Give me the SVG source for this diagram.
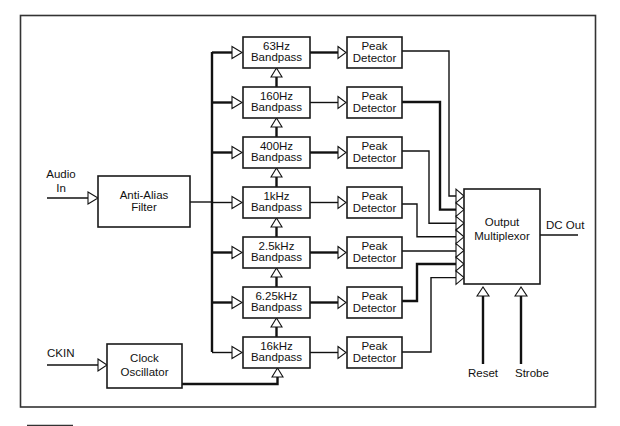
<svg xmlns="http://www.w3.org/2000/svg" width="620" height="426" viewBox="0 0 620 426">
<style>
.box{fill:#fff;stroke:#1a1a1a;stroke-width:1.6}
.t{font-family:"Liberation Sans",Arial,sans-serif;font-size:11.5px;fill:#111;text-anchor:middle}
.ts{font-family:"Liberation Sans",Arial,sans-serif;font-size:11.5px;fill:#111}
.w{fill:none;stroke:#111;stroke-width:1.4}
.W{fill:none;stroke:#111;stroke-width:2.4}
.ar{fill:#fff;stroke:#111;stroke-width:1.1;stroke-linejoin:miter}
</style>
<rect x="20.5" y="15.5" width="575" height="391.5" fill="none" stroke="#333" stroke-width="1.6"/>
<line x1="27" y1="425.5" x2="73" y2="425.5" stroke="#333" stroke-width="1.4"/>

<g id="connectors">
  <!-- inputs -->
  <path class="w" d="M47 198 H88"/>
  <path class="ar" d="M88 192 L98 198 L88 204 Z"/>
  <path class="w" d="M47 365 H98"/>
  <path class="ar" d="M98 359 L107 365 L98 371 Z"/>
  <!-- filter to bus -->
  <path class="w" d="M190 202 H212"/>
  <path class="W" d="M212 52 V352"/>
  <!-- bus branches -->
  <path class="W" d="M212 52.5 H232"/><path class="ar" d="M232 46.5 L242 52.5 L232 58.5 Z"/>
  <path class="W" d="M212 102.5 H232"/><path class="ar" d="M232 96.5 L242 102.5 L232 108.5 Z"/>
  <path class="W" d="M212 152.5 H232"/><path class="ar" d="M232 146.5 L242 152.5 L232 158.5 Z"/>
  <path class="w" d="M212 202.5 H232"/><path class="ar" d="M232 196.5 L242 202.5 L232 208.5 Z"/>
  <path class="W" d="M212 252.5 H232"/><path class="ar" d="M232 246.5 L242 252.5 L232 258.5 Z"/>
  <path class="W" d="M212 302.5 H232"/><path class="ar" d="M232 296.5 L242 302.5 L232 308.5 Z"/>
  <path class="w" d="M212 352.5 H232"/><path class="ar" d="M232 346.5 L242 352.5 L232 358.5 Z"/>
  <!-- bandpass to detector -->
  <path class="W" d="M310 52.5 H338"/><path class="ar" d="M338 46.5 L346 52.5 L338 58.5 Z"/>
  <path class="w" d="M310 102.5 H338"/><path class="ar" d="M338 96.5 L346 102.5 L338 108.5 Z"/>
  <path class="W" d="M310 152.5 H338"/><path class="ar" d="M338 146.5 L346 152.5 L338 158.5 Z"/>
  <path class="w" d="M310 202.5 H338"/><path class="ar" d="M338 196.5 L346 202.5 L338 208.5 Z"/>
  <path class="W" d="M310 252.5 H338"/><path class="ar" d="M338 246.5 L346 252.5 L338 258.5 Z"/>
  <path class="W" d="M310 302.5 H338"/><path class="ar" d="M338 296.5 L346 302.5 L338 308.5 Z"/>
  <path class="w" d="M310 352.5 H338"/><path class="ar" d="M338 346.5 L346 352.5 L338 358.5 Z"/>
  <!-- clock chain between bandpass filters -->
  <path class="W" d="M276.5 77 V87"/><path class="ar" d="M271 77 L276.5 68 L282 77 Z"/>
  <path class="W" d="M276.5 127 V137"/><path class="ar" d="M271 127 L276.5 118 L282 127 Z"/>
  <path class="W" d="M276.5 177 V187"/><path class="ar" d="M271 177 L276.5 168 L282 177 Z"/>
  <path class="W" d="M276.5 227 V237"/><path class="ar" d="M271 227 L276.5 218 L282 227 Z"/>
  <path class="W" d="M276.5 277 V287"/><path class="ar" d="M271 277 L276.5 268 L282 277 Z"/>
  <path class="W" d="M276.5 327 V337"/><path class="ar" d="M271 327 L276.5 318 L282 327 Z"/>
  <path class="W" d="M182 384 H277.5 V377"/><path class="ar" d="M272 377 L277.5 368 L283 377 Z"/>
  <!-- detectors to multiplexor -->
  <path class="w" d="M402 51 H449 V196 H456"/>
  <path class="W" d="M402 102 H440 V209.6 H456"/>
  <path class="w" d="M402 151 H429 V223.2 H456"/>
  <path class="w" d="M402 204 H417 V236.8 H456"/>
  <path class="w" d="M402 251 H456"/>
  <path class="W" d="M402 301 H417 V264 H456"/>
  <path class="w" d="M402 352 H431 V277.6 H456"/>
  <path class="ar" d="M456 189.2 L464 196 L456 202.8 Z"/>
  <path class="ar" d="M456 202.8 L464 209.6 L456 216.4 Z"/>
  <path class="ar" d="M456 216.4 L464 223.2 L456 230 Z"/>
  <path class="ar" d="M456 230 L464 236.8 L456 243.6 Z"/>
  <path class="ar" d="M456 243.6 L464 250.4 L456 257.2 Z"/>
  <path class="ar" d="M456 257.2 L464 264 L456 270.8 Z"/>
  <path class="ar" d="M456 270.8 L464 277.6 L456 284.4 Z"/>
  <!-- output, reset, strobe -->
  <path class="w" d="M540 235 H578"/>
  <path class="W" d="M483 364 V296"/><path class="ar" d="M477 296 L483 287 L489 296 Z"/>
  <path class="W" d="M521 364 V296"/><path class="ar" d="M515 296 L521 287 L527 296 Z"/>
</g>

<g id="audio-in"><text class="t" x="61" y="178">Audio</text><text class="t" x="61" y="191.5">In</text></g>
<g id="ckin"><text class="ts" x="47" y="357">CKIN</text></g>
<g id="anti-alias"><rect class="box" x="98" y="176" width="92" height="51"/><text class="t" x="144" y="199">Anti-Alias</text><text class="t" x="144" y="210.5">Filter</text></g>
<g id="clock"><rect class="box" x="107" y="344" width="75" height="44"/><text class="t" x="144.5" y="361.5">Clock</text><text class="t" x="144.5" y="375.5">Oscillator</text></g>

<g id="bp63"><rect class="box" x="243" y="37" width="67" height="31"/><text class="t" x="276.5" y="50">63Hz</text><text class="t" x="276.5" y="61">Bandpass</text></g>
<g id="bp160"><rect class="box" x="243" y="87" width="67" height="31"/><text class="t" x="276.5" y="100">160Hz</text><text class="t" x="276.5" y="111">Bandpass</text></g>
<g id="bp400"><rect class="box" x="243" y="137" width="67" height="31"/><text class="t" x="276.5" y="150">400Hz</text><text class="t" x="276.5" y="161">Bandpass</text></g>
<g id="bp1k"><rect class="box" x="243" y="187" width="67" height="31"/><text class="t" x="276.5" y="200">1kHz</text><text class="t" x="276.5" y="211">Bandpass</text></g>
<g id="bp2k5"><rect class="box" x="243" y="237" width="67" height="31"/><text class="t" x="276.5" y="250">2.5kHz</text><text class="t" x="276.5" y="261">Bandpass</text></g>
<g id="bp6k25"><rect class="box" x="243" y="287" width="67" height="31"/><text class="t" x="276.5" y="300">6.25kHz</text><text class="t" x="276.5" y="311">Bandpass</text></g>
<g id="bp16k"><rect class="box" x="243" y="337" width="67" height="31"/><text class="t" x="276.5" y="350">16kHz</text><text class="t" x="276.5" y="361">Bandpass</text></g>

<g id="pd1"><rect class="box" x="347" y="37" width="55" height="31"/><text class="t" x="374.5" y="50">Peak</text><text class="t" x="374.5" y="61.5">Detector</text></g>
<g id="pd2"><rect class="box" x="347" y="87" width="55" height="31"/><text class="t" x="374.5" y="100">Peak</text><text class="t" x="374.5" y="111.5">Detector</text></g>
<g id="pd3"><rect class="box" x="347" y="137" width="55" height="31"/><text class="t" x="374.5" y="150">Peak</text><text class="t" x="374.5" y="161.5">Detector</text></g>
<g id="pd4"><rect class="box" x="347" y="187" width="55" height="31"/><text class="t" x="374.5" y="200">Peak</text><text class="t" x="374.5" y="211.5">Detector</text></g>
<g id="pd5"><rect class="box" x="347" y="237" width="55" height="31"/><text class="t" x="374.5" y="250">Peak</text><text class="t" x="374.5" y="261.5">Detector</text></g>
<g id="pd6"><rect class="box" x="347" y="287" width="55" height="31"/><text class="t" x="374.5" y="300">Peak</text><text class="t" x="374.5" y="311.5">Detector</text></g>
<g id="pd7"><rect class="box" x="347" y="337" width="55" height="31"/><text class="t" x="374.5" y="350">Peak</text><text class="t" x="374.5" y="361.5">Detector</text></g>

<g id="mux"><rect class="box" x="464" y="189" width="76" height="95"/><text class="t" x="502" y="226">Output</text><text class="t" x="502" y="240">Multiplexor</text></g>
<g id="dc-out"><text class="ts" x="546" y="229">DC Out</text></g>
<g id="reset"><text class="t" x="483" y="377">Reset</text></g>
<g id="strobe"><text class="ts" x="515" y="377">Strobe</text></g>
</svg>
